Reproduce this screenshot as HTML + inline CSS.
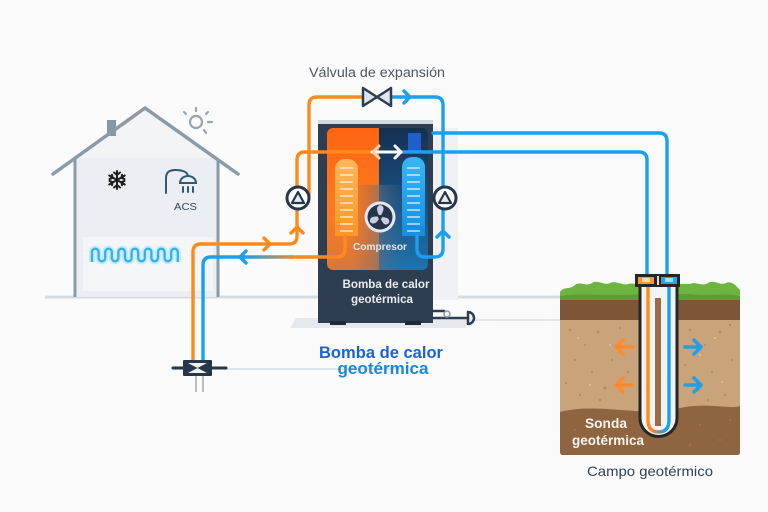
<!DOCTYPE html>
<html><head><meta charset="utf-8"><style>
html,body{margin:0;padding:0;background:#fbfbfc;}
svg{display:block;}
text{font-family:"Liberation Sans",sans-serif;}
</style></head><body>
<svg width="768" height="512" viewBox="0 0 768 512" xmlns="http://www.w3.org/2000/svg">
<defs>
<linearGradient id="gOr" x1="0" y1="0" x2="0" y2="1"><stop offset="0" stop-color="#ff6510"/><stop offset="0.6" stop-color="#fb7a22"/><stop offset="1" stop-color="#d9773c"/></linearGradient>
<linearGradient id="gBl" x1="0" y1="0" x2="0" y2="1"><stop offset="0" stop-color="#14304f"/><stop offset="0.5" stop-color="#1a4f80"/><stop offset="1" stop-color="#1f73ae"/></linearGradient>
<linearGradient id="gMid" x1="0" y1="0" x2="1" y2="0"><stop offset="0" stop-color="#7a6a66" stop-opacity="0"/><stop offset="0.5" stop-color="#6a6f7a" stop-opacity="0.55"/><stop offset="1" stop-color="#3a6a90" stop-opacity="0"/></linearGradient>
<linearGradient id="gExO" x1="0" y1="0" x2="0" y2="1"><stop offset="0" stop-color="#ffb75a"/><stop offset="1" stop-color="#ff9628"/></linearGradient>
<linearGradient id="gExB" x1="0" y1="0" x2="0" y2="1"><stop offset="0" stop-color="#37b6f6"/><stop offset="1" stop-color="#168fe2"/></linearGradient>
<linearGradient id="gRet" gradientUnits="userSpaceOnUse" x1="245" y1="0" x2="300" y2="0"><stop offset="0" stop-color="#1aa0ef"/><stop offset="1" stop-color="#ff8a1c"/></linearGradient>
<linearGradient id="gU" gradientUnits="userSpaceOnUse" x1="652" y1="0" x2="665" y2="0"><stop offset="0" stop-color="#ff8a1c"/><stop offset="1" stop-color="#1aa0ef"/></linearGradient>
<clipPath id="cpPanel"><rect x="327" y="128" width="101" height="142" rx="6"/></clipPath>
</defs>

<!-- ground lines -->
<line x1="45" y1="297" x2="560" y2="297" stroke="#d6dce3" stroke-width="3"/>
<line x1="470" y1="320" x2="560" y2="320" stroke="#e1e6eb" stroke-width="2"/>
<line x1="225" y1="369" x2="400" y2="369" stroke="#e0e5ea" stroke-width="2"/>

<!-- house -->
<polygon points="75,158 145,109 218,158 218,297 75,297" fill="#f3f4f6"/>
<rect x="77" y="158" width="140" height="139" fill="#ebeef2"/>
<rect x="83" y="237" width="130" height="54" fill="#f4f6f8"/>
<rect x="107" y="120" width="9" height="16" fill="#8797a6"/>
<polyline points="53,174 145,108 238,174" fill="none" stroke="#8a9aa9" stroke-width="3.5" stroke-linecap="round" stroke-linejoin="round"/>
<line x1="75" y1="159" x2="75" y2="297" stroke="#8a9aa9" stroke-width="3"/>
<line x1="218" y1="159" x2="218" y2="297" stroke="#8a9aa9" stroke-width="3"/>
<!-- sun -->
<g stroke="#9aa4ad" stroke-width="2.2" stroke-linecap="round" fill="none">
<circle cx="196" cy="122" r="6"/>
<line x1="196" y1="108" x2="196" y2="111"/><line x1="184" y1="112" x2="186" y2="114"/><line x1="208" y1="112" x2="206" y2="114"/>
<line x1="208" y1="122" x2="212" y2="122"/><line x1="204" y1="130" x2="206" y2="133"/>
</g>
<!-- snowflake -->
<g stroke="#1e1e1e" stroke-width="2" stroke-linecap="round" fill="none">
<line x1="117" y1="171" x2="117" y2="189"/>
<line x1="109.2" y1="175.5" x2="124.8" y2="184.5"/>
<line x1="109.2" y1="184.5" x2="124.8" y2="175.5"/>
<path d="M114,172.5 L117,175 L120,172.5 M114,187.5 L117,185 L120,187.5"/>
<path d="M109.5,179 L112.5,178 L112,174.8 M124.5,181 L121.5,182 L122,185.2"/>
<path d="M109.5,181 L112.5,182 L112,185.2 M124.5,179 L121.5,178 L122,174.8"/>
</g>
<!-- shower -->
<g fill="none" stroke="#2f5a78" stroke-width="2" stroke-linecap="round">
<path d="M166,193 V178 Q166,170 175,170 Q187,170 188,176"/>
<path d="M180,183 A8,7 0 0 1 196,183 Z"/>
<line x1="183" y1="187" x2="183" y2="192"/><line x1="188" y1="187" x2="188" y2="192"/><line x1="193" y1="187" x2="193" y2="192"/>
</g>
<text x="185.5" y="210" font-size="10.5" text-anchor="middle" fill="#34495c" textLength="23" lengthAdjust="spacingAndGlyphs">ACS</text>
<!-- radiator -->
<path d="M92,262 V252 a3.3,3.3 0 0 1 6.6,0 V258 a3.3,3.3 0 0 0 6.6,0 V252 a3.3,3.3 0 0 1 6.6,0 V258 a3.3,3.3 0 0 0 6.6,0 V252 a3.3,3.3 0 0 1 6.6,0 V258 a3.3,3.3 0 0 0 6.6,0 V252 a3.3,3.3 0 0 1 6.6,0 V258 a3.3,3.3 0 0 0 6.6,0 V252 a3.3,3.3 0 0 1 6.6,0 V258 a3.3,3.3 0 0 0 6.6,0 V252 a3.3,3.3 0 0 1 6.6,0 V258 a3.3,3.3 0 0 0 6.6,0 V252 a3.3,3.3 0 0 1 6.6,0 V262" fill="none" stroke="#9fdcf6" stroke-width="6" opacity="0.5" stroke-linejoin="round"/>
<path d="M92,262 V252 a3.3,3.3 0 0 1 6.6,0 V258 a3.3,3.3 0 0 0 6.6,0 V252 a3.3,3.3 0 0 1 6.6,0 V258 a3.3,3.3 0 0 0 6.6,0 V252 a3.3,3.3 0 0 1 6.6,0 V258 a3.3,3.3 0 0 0 6.6,0 V252 a3.3,3.3 0 0 1 6.6,0 V258 a3.3,3.3 0 0 0 6.6,0 V252 a3.3,3.3 0 0 1 6.6,0 V258 a3.3,3.3 0 0 0 6.6,0 V252 a3.3,3.3 0 0 1 6.6,0 V258 a3.3,3.3 0 0 0 6.6,0 V252 a3.3,3.3 0 0 1 6.6,0 V262" fill="none" stroke="#2fb3ec" stroke-width="2.3" stroke-linejoin="round"/>

<!-- unit background -->
<rect x="430" y="128" width="28" height="172" fill="#eff1f4"/>
<polygon points="296,318 470,318 466,328 290,328" fill="#e5e8ec"/>
<rect x="318" y="120" width="115" height="203" fill="#2e3d50"/>
<rect x="318" y="120" width="115" height="4" fill="#d3d9e0"/>
<rect x="330" y="321" width="16" height="4" fill="#1f2b39"/>
<rect x="405" y="321" width="16" height="4" fill="#1f2b39"/>
<g clip-path="url(#cpPanel)">
<rect x="327" y="128" width="52" height="142" fill="url(#gOr)"/>
<rect x="379" y="128" width="49" height="142" fill="url(#gBl)"/>
<rect x="352" y="185" width="55" height="85" fill="url(#gMid)"/>
</g>
<rect x="408" y="133" width="13" height="20" fill="#1f5fcc"/>
<!-- exchangers -->
<rect x="335" y="159" width="23" height="77" rx="10" fill="url(#gExO)"/>
<rect x="335" y="226" width="23" height="10" fill="#ff9628"/>
<rect x="402" y="157" width="23" height="79" rx="10" fill="url(#gExB)"/>
<rect x="402" y="226" width="23" height="10" fill="#168fe2"/>
<g stroke="#fff3e0" stroke-width="1.4" opacity="0.9">
<line x1="340" y1="168" x2="353" y2="168"/><line x1="340" y1="175" x2="353" y2="175"/><line x1="340" y1="182" x2="353" y2="182"/><line x1="340" y1="189" x2="353" y2="189"/><line x1="340" y1="196" x2="353" y2="196"/><line x1="340" y1="203" x2="353" y2="203"/><line x1="340" y1="210" x2="353" y2="210"/><line x1="340" y1="217" x2="353" y2="217"/><line x1="340" y1="224" x2="353" y2="224"/><line x1="340" y1="231" x2="353" y2="231"/>
</g>
<g stroke="#e6f6ff" stroke-width="1.4" opacity="0.9">
<line x1="407" y1="168" x2="420" y2="168"/><line x1="407" y1="175" x2="420" y2="175"/><line x1="407" y1="182" x2="420" y2="182"/><line x1="407" y1="189" x2="420" y2="189"/><line x1="407" y1="196" x2="420" y2="196"/><line x1="407" y1="203" x2="420" y2="203"/><line x1="407" y1="210" x2="420" y2="210"/><line x1="407" y1="217" x2="420" y2="217"/><line x1="407" y1="224" x2="420" y2="224"/><line x1="407" y1="231" x2="420" y2="231"/>
</g>
<!-- fan -->
<circle cx="380" cy="217" r="15.5" fill="#e4e6f4"/>
<circle cx="380" cy="217" r="12.5" fill="#26364a"/>
<g fill="#c9cde8">
<path d="M380,217 Q374,207 380,205 Q387,206 380,217 Z"/>
<path d="M380,217 Q391,217 389,223 Q384,228 380,217 Z"/>
<path d="M380,217 Q375,227 370,222 Q369,215 380,217 Z"/>
</g>
<circle cx="380" cy="217" r="2" fill="#26364a"/>
<text x="380" y="250" font-size="10" font-weight="bold" text-anchor="middle" fill="#e4e7ec" textLength="54" lengthAdjust="spacingAndGlyphs">Compresor</text>
<text x="386" y="288" font-size="11.5" font-weight="bold" text-anchor="middle" fill="#e9ecf0" textLength="87" lengthAdjust="spacingAndGlyphs">Bomba de calor</text>
<text x="382" y="303" font-size="11.5" font-weight="bold" text-anchor="middle" fill="#e9ecf0" textLength="62" lengthAdjust="spacingAndGlyphs">geotérmica</text>
<!-- drain -->
<g fill="none" stroke="#2e3d50" stroke-width="2.5" stroke-linecap="round">
<path d="M433,311 H444"/>
<path d="M433,318 H468"/>
<path d="M468,312 V324 M468,312 a6,6 0 0 1 0,12"/>
</g>
<circle cx="447" cy="314" r="3" fill="#f2f4f6" stroke="#8d99a6" stroke-width="1.5"/>

<!-- pipes -->
<g fill="none" stroke-width="3.4" stroke-linecap="round" stroke-linejoin="round">
<path d="M193,362 V252 Q193,244 201,244 H289 Q297,244 297,236 V210" stroke="#ff8a1c"/>
<path d="M297,186 V160 Q297,152 305,152 H372" stroke="#ff8a1c"/>
<path d="M309,195 V105 Q309,97 317,97 H363" stroke="#ff8a1c"/>
<path d="M345,236 V249 Q345,257 337,257 H290" stroke="#ff8a1c"/>
<path d="M292,257 H245" stroke="url(#gRet)"/>
<path d="M245,257 H211 Q203,257 203,265 V362" stroke="#1aa0ef"/>
<path d="M392,97 H435 Q443,97 443,105 V186" stroke="#1aa0ef"/>
<path d="M443,210 V249 Q443,257 435,257 H425 Q417,257 417,249 V236" stroke="#1aa0ef"/>
<path d="M433,133 H659 Q667,133 667,141 V276" stroke="#1aa0ef"/>
<path d="M400,152 H639 Q647,152 647,160 V276" stroke="#1aa0ef"/>
<path d="M264,238 L270,244 L264,250" stroke="#ff8a1c"/>
<path d="M291,233 L297,227 L303,233" stroke="#ff8a1c"/>
<path d="M404,91 L410,97 L404,103" stroke="#1aa0ef"/>
<path d="M246,251 L240,257 L246,263" stroke="#1aa0ef"/>
<path d="M437,237 L443,231 L449,237" stroke="#1aa0ef"/>
</g>
<!-- white double arrow -->
<g fill="none" stroke-width="3" stroke-linecap="round" stroke-linejoin="round">
<path d="M372,152 H401" stroke="#fff"/>
<path d="M379,146 L373,152 L379,158" stroke="#ffd2ae"/>
<path d="M395,146 L401,152 L395,158" stroke="#fff"/>
</g>

<!-- expansion valve -->
<g stroke="#2e3d50" stroke-width="2.5" stroke-linejoin="round" fill="#dde5ee">
<polygon points="363,88 363,106 377,97"/>
<polygon points="391,88 391,106 377,97"/>
</g>
<text x="377" y="77" font-size="13.5" text-anchor="middle" fill="#4f565e" textLength="136" lengthAdjust="spacingAndGlyphs">Válvula de expansión</text>

<!-- pumps -->
<g>
<circle cx="298" cy="198" r="11" fill="#fff" stroke="#26374a" stroke-width="3"/>
<polygon points="292,203 304,203 298,192" fill="#e8ecf1" stroke="#26374a" stroke-width="2.2" stroke-linejoin="round"/>
<circle cx="445" cy="198" r="11" fill="#fff" stroke="#26374a" stroke-width="3"/>
<polygon points="439,203 451,203 445,192" fill="#e8ecf1" stroke="#26374a" stroke-width="2.2" stroke-linejoin="round"/>
</g>

<!-- bottom valve -->
<line x1="196" y1="376" x2="196" y2="392" stroke="#b5bec8" stroke-width="2"/>
<line x1="203" y1="376" x2="203" y2="392" stroke="#b5bec8" stroke-width="2"/>
<line x1="173" y1="368" x2="226" y2="368" stroke="#26374a" stroke-width="3" stroke-linecap="round"/>
<rect x="183" y="360" width="29" height="16" fill="#26374a" rx="1"/>
<polygon points="188,363 207,363 197.5,368" fill="#eef2f6"/>
<polygon points="188,373 207,373 197.5,368" fill="#eef2f6"/>

<!-- blue title -->
<text x="381" y="358" font-size="16.5" font-weight="bold" text-anchor="middle" fill="#1b62d2" textLength="124" lengthAdjust="spacingAndGlyphs">Bomba de calor</text>
<text x="383" y="374" font-size="16.5" font-weight="bold" text-anchor="middle" fill="#1e86d6" textLength="91" lengthAdjust="spacingAndGlyphs">geotérmica</text>

<!-- geothermal field -->
<rect x="560" y="298" width="180" height="157" rx="3" fill="#c9a379"/>
<rect x="560" y="298" width="180" height="22" fill="#7d5537"/>
<path d="M560,412 C600,402 640,418 680,408 C710,402 730,410 740,406 V452 Q740,455 737,455 H563 Q560,455 560,452 Z" fill="#8f6441"/>
<g fill="#a9855d" opacity="0.8">
<circle cx="570" cy="330" r="1.3"/><circle cx="585" cy="345" r="1"/><circle cx="598" cy="332" r="1.4"/><circle cx="575" cy="360" r="1.2"/><circle cx="592" cy="372" r="1"/><circle cx="605" cy="388" r="1.5"/><circle cx="580" cy="395" r="1.1"/><circle cx="612" cy="360" r="1"/><circle cx="620" cy="328" r="1.2"/><circle cx="628" cy="372" r="1.3"/><circle cx="566" cy="383" r="1"/><circle cx="600" cy="400" r="1.2"/>
<circle cx="690" cy="330" r="1.3"/><circle cx="705" cy="345" r="1"/><circle cx="720" cy="332" r="1.4"/><circle cx="732" cy="360" r="1.2"/><circle cx="712" cy="372" r="1"/><circle cx="698" cy="390" r="1.5"/><circle cx="725" cy="395" r="1.1"/><circle cx="685" cy="365" r="1"/><circle cx="730" cy="325" r="1.2"/><circle cx="708" cy="400" r="1.2"/>
</g>
<g fill="#e4cca9" opacity="0.8">
<circle cx="578" cy="338" r="1"/><circle cx="610" cy="345" r="1"/><circle cx="590" cy="385" r="1"/><circle cx="700" cy="355" r="1"/><circle cx="722" cy="382" r="1"/><circle cx="715" cy="338" r="1"/>
</g>
<g fill="#a47553" opacity="0.8">
<circle cx="575" cy="430" r="1.2"/><circle cx="700" cy="425" r="1.2"/><circle cx="720" cy="440" r="1"/><circle cx="690" cy="445" r="1.2"/><circle cx="730" cy="420" r="1"/>
</g>
<path d="M560,300 V292 C564,286 570,290 575,285 C580,281 586,287 592,283 C598,279 604,286 610,283 C616,280 622,286 628,284 C634,282 640,287 646,284 L690,284 C696,281 702,287 708,283 C714,279 720,286 726,283 C732,280 737,287 740,290 V300 Z" fill="#6db540"/>
<path d="M560,300 V296 C580,292 610,297 640,294 L690,294 C710,297 725,292 740,296 V300 Z" fill="#5c9e34"/>

<!-- probe -->
<path d="M640,285 V418 a18.5,18.5 0 0 0 37,0 V285 Z" fill="#f3f3f3" stroke="#262626" stroke-width="3"/>
<rect x="655" y="298" width="6" height="128" fill="#9d6b45"/>
<path d="M648,285 V420 Q648,432 658.5,432 Q669,432 669,420 V285" fill="none" stroke="url(#gU)" stroke-width="3.4"/>
<rect x="635" y="274" width="45" height="13" fill="#262626"/>
<rect x="638" y="277" width="16" height="7" fill="#ff9a2a"/>
<rect x="642" y="278" width="8" height="4" fill="#ffd9a8"/>
<rect x="657" y="276" width="2" height="9" fill="#ddd"/>
<rect x="661" y="277" width="16" height="7" fill="#28a3ef"/>
<rect x="665" y="278" width="8" height="4" fill="#a8dcfa"/>
<!-- heat arrows -->
<g fill="none" stroke-width="3.5" stroke-linecap="round" stroke-linejoin="round">
<path d="M632,347 H616 M623,340 L616,347 L623,354" stroke="#ff8a2a"/>
<path d="M632,385 H616 M623,378 L616,385 L623,392" stroke="#ff8a2a"/>
<path d="M685,347 H701 M694,340 L701,347 L694,354" stroke="#1aa0ef"/>
<path d="M685,385 H701 M694,378 L701,385 L694,392" stroke="#1aa0ef"/>
</g>
<text x="606" y="428" font-size="13.5" font-weight="bold" text-anchor="middle" fill="#fbf6f0" textLength="42" lengthAdjust="spacingAndGlyphs">Sonda</text>
<text x="608" y="445" font-size="13.5" font-weight="bold" text-anchor="middle" fill="#fbf6f0" textLength="72" lengthAdjust="spacingAndGlyphs">geotérmica</text>
<text x="650" y="476" font-size="14" text-anchor="middle" fill="#2f4256" textLength="126" lengthAdjust="spacingAndGlyphs">Campo geotérmico</text>
</svg>
</body></html>
